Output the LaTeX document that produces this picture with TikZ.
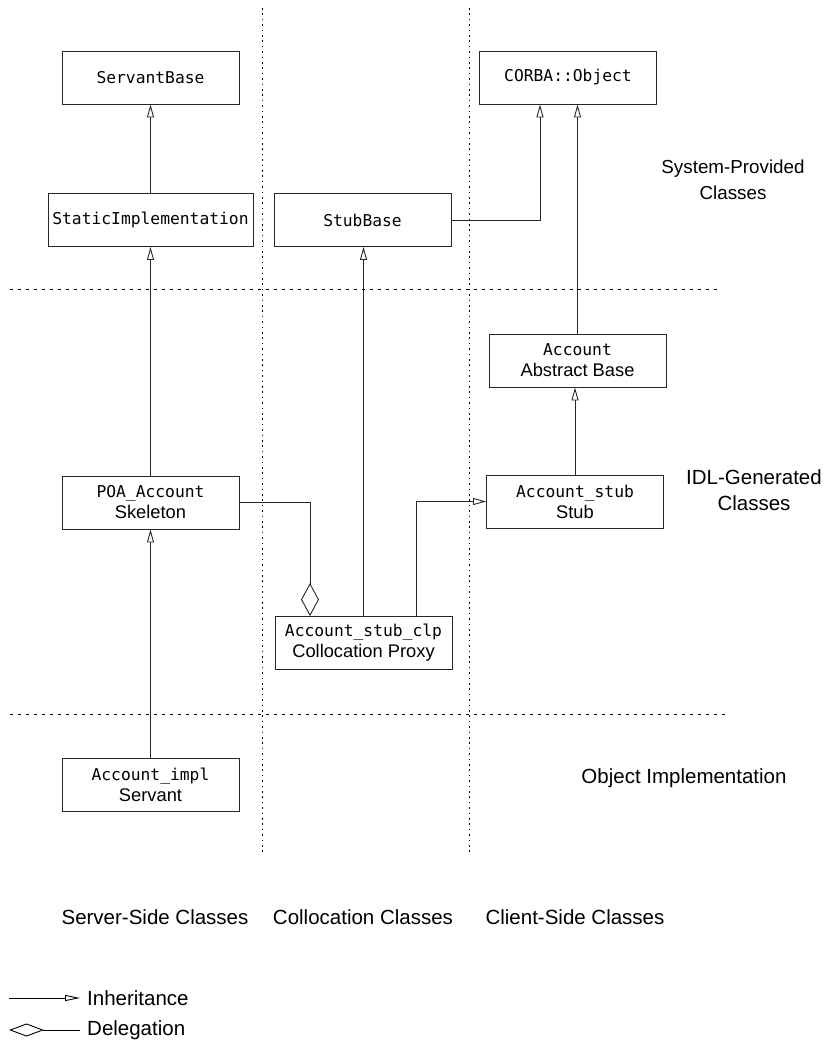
\documentclass[tikz,border=0pt]{standalone}
\usepackage{fontspec}
\setmainfont{Liberation Sans}
\newfontfamily\codefont{DejaVu Sans Mono}
\usetikzlibrary{arrows.meta}
\begin{document}
\begin{tikzpicture}[x=1pt,y=-1pt,
  classbox/.style={draw=black!85,line width=0.9pt,rectangle,inner sep=0pt,
    minimum width=177pt,minimum height=53pt,align=center,
    font=\fontsize{18.3}{21}\selectfont},
  code/.style={font=\codefont\fontsize{16.3}{21}\selectfont},
  inh/.style={line width=0.9pt,draw=black!85,-{Triangle[open,length=13pt,width=7pt]}},
  deleg/.style={line width=0.9pt,draw=black!85,{Diamond[open,length=33pt,width=18pt]}-},
  vsep/.style={line width=1pt,dash pattern=on 1.6pt off 3.8pt},
  hsep/.style={line width=1pt,dash pattern=on 3pt off 5pt},
  region/.style={align=center,font=\fontsize{20.5}{26}\selectfont},
]
\useasboundingbox (0,0) rectangle (838,1044);

% column and row separators
\coordinate (v1t) at (262,8);   \coordinate (v1b) at (262,852);
\coordinate (v2t) at (469,8);   \coordinate (v2b) at (469,852);
\coordinate (h1l) at (10,289);  \coordinate (h1r) at (717,289);
\coordinate (h2l) at (10,714);  \coordinate (h2r) at (725,714);
\draw[vsep] (v1t) -- (v1b);
\draw[vsep] (v2t) -- (v2b);
\draw[hsep] (h1l) -- (h1r);
\draw[hsep] (h2l) -- (h2r);

% class boxes
\node[classbox,code] (sbase) at (150.5,77.5) {ServantBase};
\node[classbox,code,minimum width=205pt] (simpl) at (150.5,220) {StaticImplementation};
\node[classbox,code] (stubbase) at (362.5,220) {StubBase};
\node[classbox,code] (corba) at (568,77.5) {CORBA::Object};
\node[classbox] (abase) at (577.5,360.5) {{\codefont\fontsize{16.3}{21}\selectfont Account}\\Abstract Base};
\node[classbox] (astub) at (575,501.5) {{\codefont\fontsize{16.3}{21}\selectfont Account\_stub}\\Stub};
\node[classbox] (poa) at (150.5,502.5) {{\codefont\fontsize{16.3}{21}\selectfont POA\_Account}\\Skeleton};
\node[classbox] (clp) at (363.5,643) {{\codefont\fontsize{16.3}{21}\selectfont Account\_stub\_clp}\\Collocation Proxy};
\node[classbox] (impl) at (150.5,784.5) {{\codefont\fontsize{16.3}{21}\selectfont Account\_impl}\\Servant};

% inheritance
\draw[inh] (simpl.north) -- (sbase.south);
\draw[inh] (poa.north) -- (poa.north |- simpl.south);
\draw[inh] (impl.north) -- (poa.south);
\draw[inh] (stubbase.east) -| ([xshift=-28pt]corba.south);
\draw[inh] (abase.north) -- (abase.north |- corba.south);
\draw[inh] (astub.north) -- (astub.north |- abase.south);
\draw[inh] (clp.north) -- (clp.north |- stubbase.south);
\draw[inh] ([xshift=52.5pt]clp.north) |- (astub.west);

% delegation
\draw[deleg] ([xshift=-53.5pt]clp.north) |- (poa.east);

% region labels
\node[region,font=\fontsize{18.8}{26}\selectfont] (lsys) at (733,180) {System-Provided\\Classes};
\node[region] (lidl) at (754,490) {IDL-Generated\\Classes};
\node[region] (limpl) at (684,778) {Object Implementation};
\node[region] (lserver) at (155,917) {Server-Side Classes};
\node[region] (lcoll) at (363,917) {Collocation Classes};
\node[region] (lclient) at (575,917) {Client-Side Classes};

% legend
\coordinate (lia) at (9,998);  \coordinate (lib) at (80,998);
\coordinate (lda) at (9,1030); \coordinate (ldb) at (80,1030);
\draw[line width=0.9pt,-{Triangle[open,length=15pt,width=6pt]}] (lia) -- (lib);
\draw[line width=0.9pt,{Diamond[open,length=35pt,width=13pt]}-] (lda) -- (ldb);
\node[region,anchor=west,inner sep=0pt] (linh) at (87,998) {Inheritance};
\node[region,anchor=west,inner sep=0pt] (ldel) at (87,1030) {Delegation};
\end{tikzpicture}
\end{document}
